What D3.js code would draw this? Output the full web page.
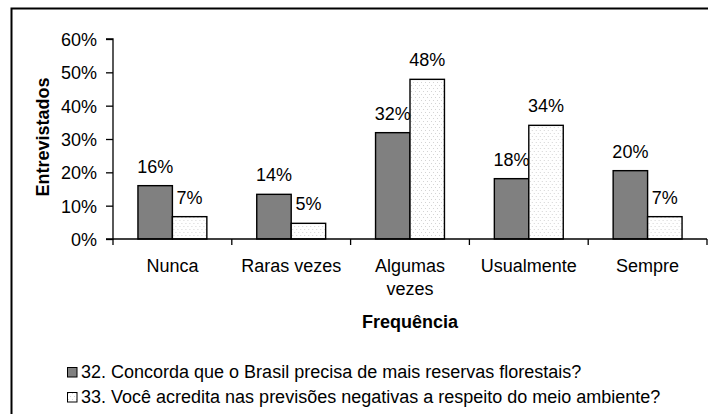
<!DOCTYPE html>
<html>
<head>
<meta charset="utf-8">
<script src="https://cdn.jsdelivr.net/npm/d3@7"></script>
<style>
  body { margin: 0; background: #fff; }
  svg text { font-family: "Liberation Sans", Arial, sans-serif; fill: #000; }
</style>
</head>
<body>
<div id="main"></div>
<script>
// data
var categories = ["Nunca", "Raras vezes", "Algumas vezes", "Usualmente", "Sempre"];
var q32 = [16, 13.4, 31.9, 18.1, 20.5];
var q33 = [6.7, 4.7, 47.9, 34.1, 6.7];
var q32Labels = ["16%", "14%", "32%", "18%", "20%"];
var q33Labels = ["7%", "5%", "48%", "34%", "7%"];
var yTicks = [0, 10, 20, 30, 40, 50, 60];
var seriesNames = ["32. Concorda que o Brasil precisa de mais reservas florestais?",
                   "33. Você acredita nas previsões negativas a respeito do meio ambiente?"];

const w = 708;
const h = 414;
const padL = 113, padR = 707, padT = 39, padB = 239;
const fs = 18;

const svg = d3.select("#main").append("svg").attr("width", w).attr("height", h);

// dotted fill for second series
var defs = svg.append("defs");
var pat = defs.append("pattern").attr("id", "dots")
    .attr("patternUnits", "userSpaceOnUse").attr("width", 4).attr("height", 6);
pat.append("rect").attr("width", 4).attr("height", 6).attr("fill", "#fff");
pat.append("rect").attr("x", 1).attr("y", 1).attr("width", 1).attr("height", 1).attr("fill", "#d4d4d4");
pat.append("rect").attr("x", 3).attr("y", 4).attr("width", 1).attr("height", 1).attr("fill", "#d4d4d4");

// frame
svg.append("path")
    .attr("d", "M11.5," + h + "V8.5H" + w)
    .attr("fill", "none").attr("stroke", "#000").attr("stroke-width", 2);

// scales
const xScale = d3.scaleBand().domain(categories).range([padL, padR]);
const yScale = d3.scaleLinear().domain([0, 60]).range([padB, padT]);
const barW = xScale.bandwidth() * 0.29;

var groups = svg.selectAll(".grp")
    .data(categories)
    .enter()
    .append("g")
    .attr("class", "grp")
    .attr("transform", d => "translate(" + (xScale(d) + xScale.bandwidth() / 2) + ",0)");

// bars
groups.append("rect")
    .attr("x", -barW)
    .attr("y", (d, i) => yScale(q32[i]))
    .attr("width", barW)
    .attr("height", (d, i) => yScale(0) - yScale(q32[i]))
    .attr("fill", "#808080").attr("stroke", "#000").attr("stroke-width", 1.4);

groups.append("rect")
    .attr("x", 0)
    .attr("y", (d, i) => yScale(q33[i]))
    .attr("width", barW)
    .attr("height", (d, i) => yScale(0) - yScale(q33[i]))
    .attr("fill", "url(#dots)").attr("stroke", "#000").attr("stroke-width", 1.4);

// value labels
groups.append("text")
    .attr("x", -barW / 2)
    .attr("y", (d, i) => yScale(q32[i]) - 13)
    .attr("text-anchor", "middle").style("font-size", fs + "px")
    .text((d, i) => q32Labels[i]);

groups.append("text")
    .attr("x", barW / 2)
    .attr("y", (d, i) => yScale(q33[i]) - 13)
    .attr("text-anchor", "middle").style("font-size", fs + "px")
    .text((d, i) => q33Labels[i]);

// y axis
const yAxis = d3.axisLeft(yScale).tickValues(yTicks).tickSize(7).tickPadding(9)
    .tickFormat(d => d + "%");
var ya = svg.append("g").attr("transform", "translate(" + padL + ",0)").call(yAxis);
ya.select(".domain").attr("d", "M-7," + padT + "H0V" + padB + "H-7").attr("stroke-width", 1.3);
ya.selectAll(".tick line").attr("stroke-width", 1.3);
ya.selectAll("text").style("font-size", fs + "px").attr("font-family", null).attr("dy", "0.36em");

// x axis
var xa = svg.append("g").attr("transform", "translate(0," + padB + ")");
xa.append("line").attr("x1", padL).attr("x2", padR).attr("stroke", "#000").attr("stroke-width", 1.3);
xa.selectAll(".xt")
    .data(categories.concat(["end"]))
    .enter()
    .append("line")
    .attr("class", "xt")
    .attr("x1", d => d == "end" ? padR : xScale(d))
    .attr("x2", d => d == "end" ? padR : xScale(d))
    .attr("y1", 0).attr("y2", 6)
    .attr("stroke", "#000").attr("stroke-width", 1.3);

var catText = xa.selectAll(".cat")
    .data(categories)
    .enter()
    .append("text")
    .attr("class", "cat")
    .attr("text-anchor", "middle")
    .style("font-size", fs + "px")
    .attr("transform", d => "translate(" + (xScale(d) + xScale.bandwidth() / 2) + ",33)");
catText.each(function (d) {
    var words = d == "Algumas vezes" ? ["Algumas", "vezes"] : [d];
    d3.select(this).selectAll("tspan").data(words).enter().append("tspan")
        .attr("x", 0).attr("y", (t, i) => i * 23).text(t => t);
});

// axis titles
svg.append("text")
    .attr("x", (padL + padR) / 2).attr("y", 328)
    .attr("text-anchor", "middle")
    .style("font-size", fs + "px").style("font-weight", "bold")
    .text("Frequência");

svg.append("text")
    .attr("transform", "translate(49,137) rotate(-90)")
    .attr("text-anchor", "middle")
    .style("font-size", fs + "px").style("font-weight", "bold")
    .text("Entrevistados");

// legend
var leg = svg.selectAll(".leg")
    .data(seriesNames)
    .enter()
    .append("g")
    .attr("class", "leg")
    .attr("transform", (d, i) => "translate(67," + (367 + i * 25) + ")");
leg.append("rect")
    .attr("x", 0.5).attr("y", 0.5).attr("width", 9.5).attr("height", 9.5)
    .attr("fill", (d, i) => i == 0 ? "#808080" : "url(#dots)")
    .attr("stroke", "#000").attr("stroke-width", 1);
leg.append("text")
    .attr("x", 14).attr("y", 10.5)
    .style("font-size", fs + "px")
    .text(d => d);
</script>
</body>
</html>
